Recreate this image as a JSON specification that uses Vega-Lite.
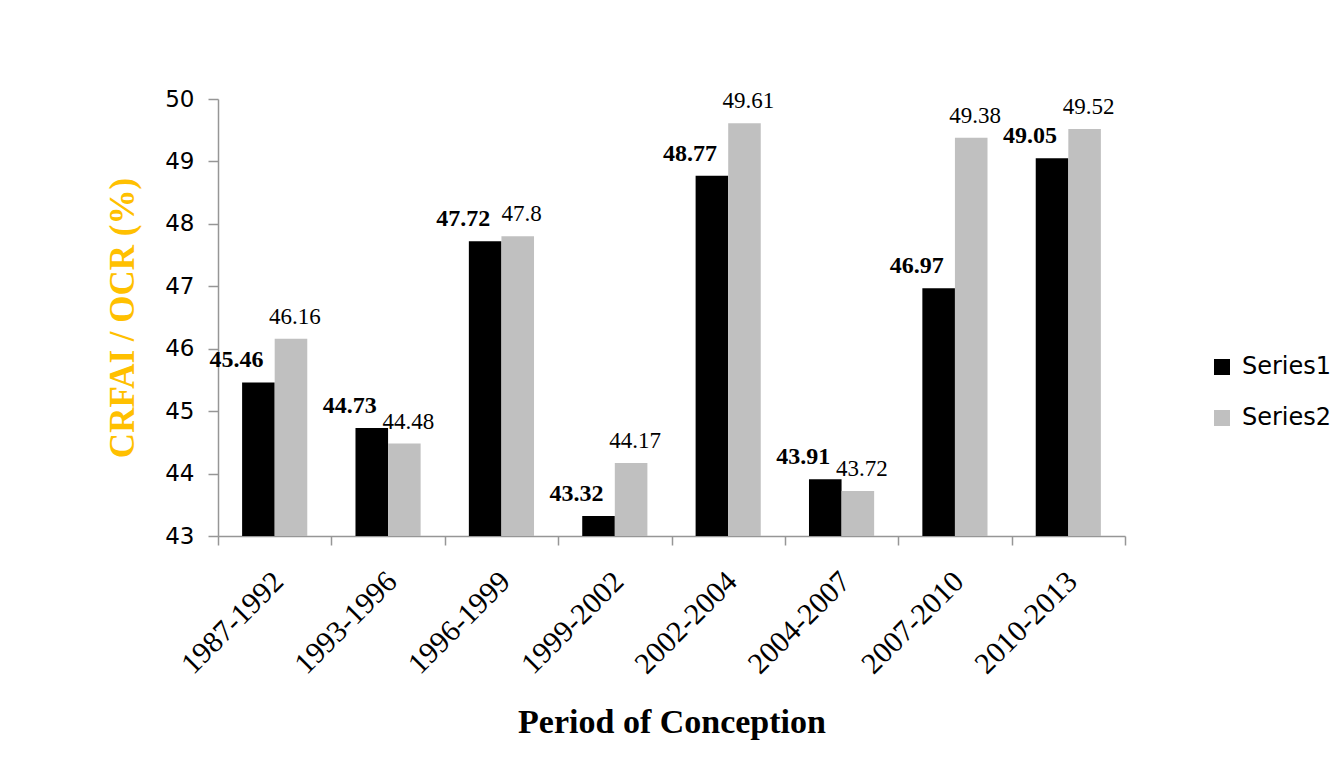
{
  "$schema": "https://vega.github.io/schema/vega-lite/v6.json",
  "autosize": {"type": "none"},
  "width": 907,
  "height": 437,
  "padding": {"left": 218, "top": 99, "right": 208, "bottom": 234},
  "background": "white",
  "config": {"view": {"stroke": null}},
  "data": {
    "values": [
      {"period": "1987-1992", "series": "Series1", "value": 45.46},
      {"period": "1987-1992", "series": "Series2", "value": 46.16},
      {"period": "1993-1996", "series": "Series1", "value": 44.73},
      {"period": "1993-1996", "series": "Series2", "value": 44.48},
      {"period": "1996-1999", "series": "Series1", "value": 47.72},
      {"period": "1996-1999", "series": "Series2", "value": 47.8},
      {"period": "1999-2002", "series": "Series1", "value": 43.32},
      {"period": "1999-2002", "series": "Series2", "value": 44.17},
      {"period": "2002-2004", "series": "Series1", "value": 48.77},
      {"period": "2002-2004", "series": "Series2", "value": 49.61},
      {"period": "2004-2007", "series": "Series1", "value": 43.91},
      {"period": "2004-2007", "series": "Series2", "value": 43.72},
      {"period": "2007-2010", "series": "Series1", "value": 46.97},
      {"period": "2007-2010", "series": "Series2", "value": 49.38},
      {"period": "2010-2013", "series": "Series1", "value": 49.05},
      {"period": "2010-2013", "series": "Series2", "value": 49.52}
    ]
  },
  "encoding": {
    "x": {
      "field": "period",
      "type": "nominal",
      "sort": null,
      "scale": {"paddingInner": 0, "paddingOuter": 0},
      "axis": {
        "title": "Period of Conception",
        "titleFont": "Liberation Serif",
        "titleFontSize": 34,
        "titleFontWeight": "bold",
        "titleColor": "#000000",
        "titlePadding": 26,
        "labelAngle": -45,
        "labelFont": "Liberation Serif",
        "labelFontSize": 30,
        "labelColor": "#000000",
        "labelPadding": 21,
        "labelOffset": -7,
        "tickBand": "extent",
        "tickSize": 9,
        "tickColor": "#969696",
        "domainColor": "#969696",
        "domainWidth": 1.5,
        "tickWidth": 1.5,
        "grid": false
      }
    },
    "xOffset": {
      "field": "series",
      "type": "nominal",
      "scale": {"paddingInner": 0, "paddingOuter": 0.74}
    },
    "y": {
      "field": "value",
      "type": "quantitative",
      "scale": {"domain": [43, 50], "zero": false, "nice": false},
      "axis": {
        "title": "CRFAI / OCR (%)",
        "titleFont": "Liberation Serif",
        "titleFontSize": 35,
        "titleFontWeight": "bold",
        "titleColor": "#FFC000",
        "titlePadding": 24,
        "values": [43, 44, 45, 46, 47, 48, 49, 50],
        "labelFont": "DejaVu Sans",
        "labelFontSize": 23,
        "labelColor": "#000000",
        "labelPadding": 14,
        "tickSize": 10,
        "tickColor": "#969696",
        "domainColor": "#969696",
        "domainWidth": 1.5,
        "tickWidth": 1.5,
        "grid": false
      }
    }
  },
  "layer": [
    {
      "mark": {"type": "bar"},
      "encoding": {
        "y2": {"datum": 43},
        "color": {
          "field": "series",
          "type": "nominal",
          "scale": {"domain": ["Series1", "Series2"], "range": ["#000000", "#C0C0C0"]},
          "legend": {
            "title": null,
            "orient": "none",
            "legendX": 992,
            "legendY": 256,
            "symbolType": "square",
            "symbolSize": 256,
            "symbolStrokeWidth": 0,
            "labelFont": "DejaVu Sans",
            "labelFontSize": 24,
            "labelColor": "#000000",
            "labelOffset": 8,
            "rowPadding": 27
          }
        }
      }
    },
    {
      "transform": [{"filter": "datum.series === 'Series1'"}],
      "mark": {"type": "text", "font": "Liberation Serif", "fontSize": 24, "fontWeight": "bold", "color": "#000000", "dx": -22, "dy": -22, "baseline": "middle", "align": "center"},
      "encoding": {"text": {"field": "value", "type": "quantitative"}}
    },
    {
      "transform": [{"filter": "datum.series === 'Series2'"}],
      "mark": {"type": "text", "font": "Liberation Serif", "fontSize": 23, "color": "#000000", "dx": 4, "dy": -22, "baseline": "middle", "align": "center"},
      "encoding": {"text": {"field": "value", "type": "quantitative"}}
    }
  ]
}
